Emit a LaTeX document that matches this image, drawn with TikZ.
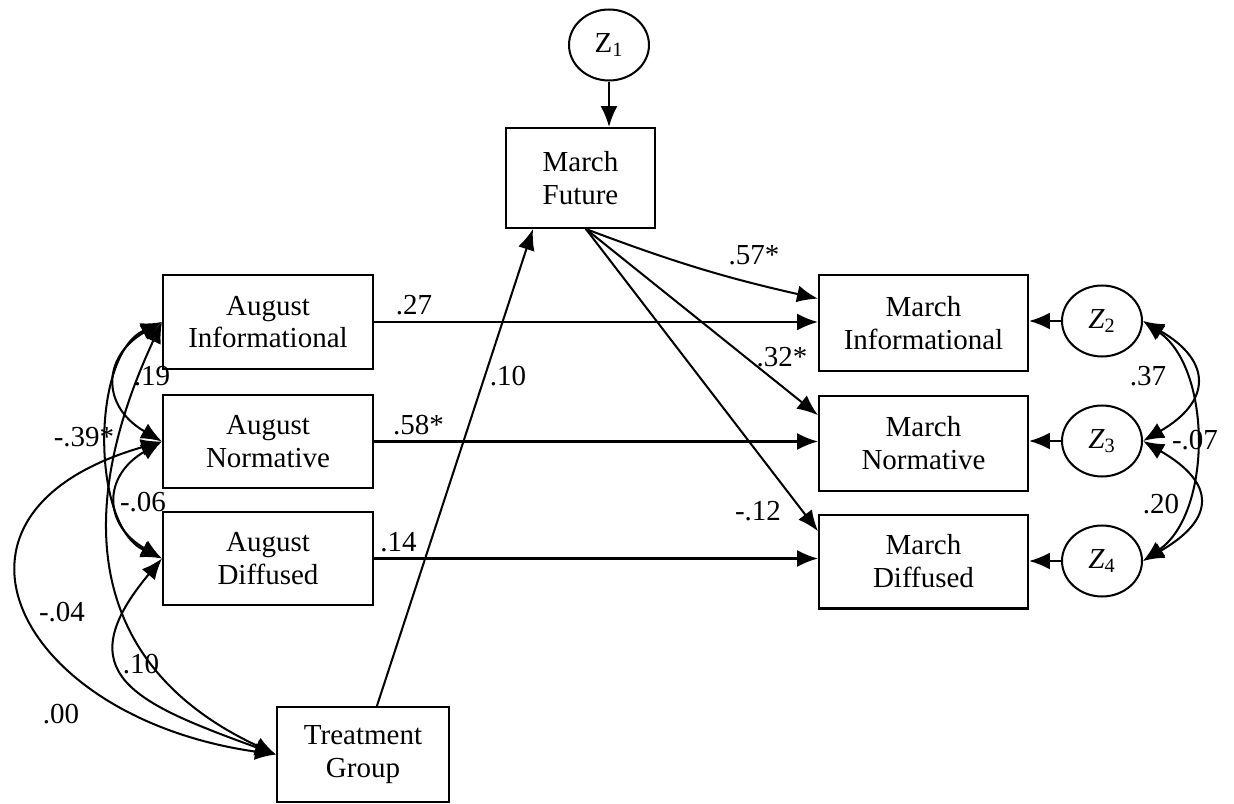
\documentclass[tikz,border=0pt]{standalone}
\usepackage{fontspec}
\setmainfont{Liberation Serif}
\usetikzlibrary{shapes.geometric,arrows.meta}

\begin{document}
\begin{tikzpicture}[x=0.02cm, y=-0.02cm, line width=1.15pt,
    >={Latex[length=4.2mm,width=3.4mm]},
    font=\fontsize{16.5}{18.7}\selectfont,
    box/.style={draw, align=center, inner sep=0pt},
    err/.style={draw, ellipse, inner sep=0pt, minimum width=1.6cm, minimum height=1.42cm}]

    \useasboundingbox (0,0) rectangle (1234,804);

    \node[err] (z1) at (609,45) {Z\textsubscript{1}};
    \node[box, minimum width=2.98cm, minimum height=2cm] (mf) at (580.5,178) {March\\Future};
    \node[box, minimum width=4.2cm, minimum height=1.88cm] (ai) at (268,322) {August\\Informational};
    \node[box, minimum width=4.2cm, minimum height=1.86cm] (an) at (268,441.5) {August\\Normative};
    \node[box, minimum width=4.2cm, minimum height=1.86cm] (ad) at (268,558.5) {August\\Diffused};
    \node[box, minimum width=3.44cm, minimum height=1.9cm] (tg) at (363,754.5) {Treatment\\Group};
    \node[box, minimum width=4.18cm, minimum height=1.92cm] (mi) at (923.5,323) {March\\Informational};
    \node[box, minimum width=4.18cm, minimum height=1.9cm] (mn) at (923.5,443.5) {March\\Normative};
    \node[box, minimum width=4.18cm, minimum height=1.88cm] (md) at (923.5,561.5) {March\\Diffused};
    \node[err] (z2) at (1102,321) {\textit{Z}\textsubscript{2}};
    \node[err] (z3) at (1102,441) {\textit{Z}\textsubscript{3}};
    \node[err] (z4) at (1102,561) {\textit{Z}\textsubscript{4}};

    \draw [->] (z1.south) to (z1.south |- mf.north);
    \draw [->] (ai.east) to node[pos=.09, above] {.27} (ai.east -| mi.west);
    \draw [->] (an.east) to node[pos=.10, above] {.58*} (an.east -| mn.west);
    \draw [->] (ad.east) to node[pos=.055, above] {.14} (ad.east -| md.west);
    \draw [->] (tg.74) to (mf.227);
    \draw [->] (mf.-84) to[bend right=4] (mi.167.7);
    \draw [->] (mf.-84) to (mn.165.9);
    \draw [->] (mf.-84) to (md.164.4);
    \draw [->] (z2.west) to (mi.east |- z2.west);
    \draw [->] (z3.west) to (mn.east |- z3.west);
    \draw [->] (z4.west) to (md.east |- z4.west);

    \draw [<->] (ai.west) to[out=210, in=150, looseness=1.5] (an.west);
    \draw [<->] (ai.west) to[out=205, in=155, looseness=0.85] (ad.west);
    \draw [<->] (an.west) to[out=210, in=150, looseness=1.5] (ad.west);
    \draw [<->] (ai.west) to[out=245, in=155, looseness=1.2] (tg.west);
    \draw [<->] (an.west) to[out=196, in=172, looseness=2.0] (tg.west);
    \draw [<->] (ad.west) to[out=230, in=160, looseness=1.7] (tg.west);

    \draw [<->] (z2.east) to[out=-30, in=30, looseness=1.7] (z3.east);
    \draw [<->] (z3.east) to[out=-30, in=30, looseness=1.8] (z4.east);
    \draw [<->] (z2.east) to[out=-35, in=35, looseness=0.9] (z4.east);

    \node (l1) at (754,255) {.57*};
    \node (l2) at (782,357) {.32*};
    \node (l3) at (758,511) {-.12};
    \node (l4) at (508,376) {.10};
    \node (l5) at (152,376) {.19};
    \node (l6) at (84,437) {-.39*};
    \node (l7) at (143,502) {-.06};
    \node (l8) at (62,612) {-.04};
    \node (l9) at (141,664) {.10};
    \node (l10) at (61,714) {.00};
    \node (l11) at (1148,376) {.37};
    \node (l12) at (1195,440) {-.07};
    \node (l13) at (1161,504) {.20};

\end{tikzpicture}
\end{document}
